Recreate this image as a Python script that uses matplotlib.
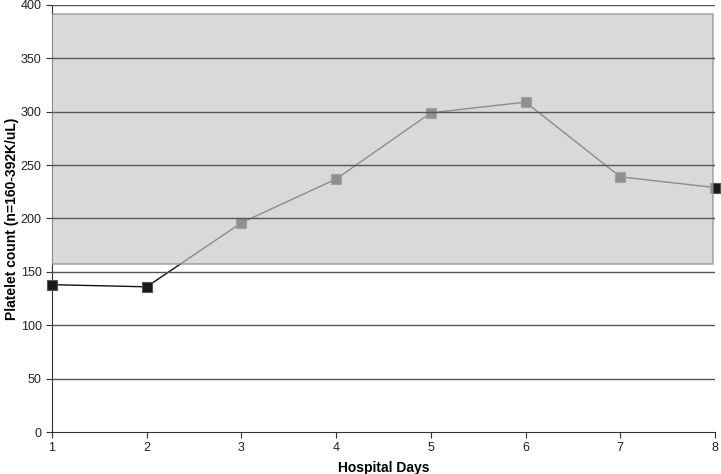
import matplotlib
matplotlib.use("Agg")
import matplotlib.pyplot as plt
from matplotlib.patches import Rectangle

plt.rcParams['font.family'] = ['Liberation Sans', 'DejaVu Sans']

days = [1, 2, 3, 4, 5, 6, 7, 8]
platelets = [138, 136, 196, 237, 299, 309, 239, 229]
normal_low = 157
normal_high = 392
yticks = [0, 50, 100, 150, 200, 250, 300, 350, 400]

fig = plt.figure(figsize=(7.21, 4.74), dpi=100)
ax = fig.add_axes([0.0721, 0.0886, 0.9196, 0.9009])

ax.plot(days, platelets, color='#111111', lw=1.0, marker='s', markersize=7,
        markerfacecolor='#1a1a1a', markeredgecolor='#555555', markeredgewidth=0.8,
        zorder=3, clip_on=False)

ax.add_patch(Rectangle((days[0], normal_low), 6.98, normal_high - normal_low,
                       facecolor='#c7c7c7', alpha=0.68, edgecolor='#888888',
                       lw=1.2, zorder=4))

ax.set_xlim(1, 8)
ax.set_ylim(0, 400)
ax.set_xticks(days)
ax.set_yticks(yticks)
for y in yticks[1:]:
    ax.axhline(y, color='#555555', lw=1.0, zorder=5)
for s in ['top', 'right']:
    ax.spines[s].set_visible(False)
for s in ['left', 'bottom']:
    ax.spines[s].set_color('#333333')
ax.tick_params(axis='both', direction='out', length=4, color='#333333',
               labelsize=9, labelcolor='#222222')
ax.set_xlabel('Hospital Days', fontsize=10, fontweight='bold')
ax.set_ylabel('Platelet count (n=160-392K/uL)', fontsize=10, fontweight='bold')
ax.xaxis.set_label_coords(0.5, -0.068)
ax.yaxis.set_label_coords(-0.05, 0.5)

fig.savefig('out.png', dpi=100)
